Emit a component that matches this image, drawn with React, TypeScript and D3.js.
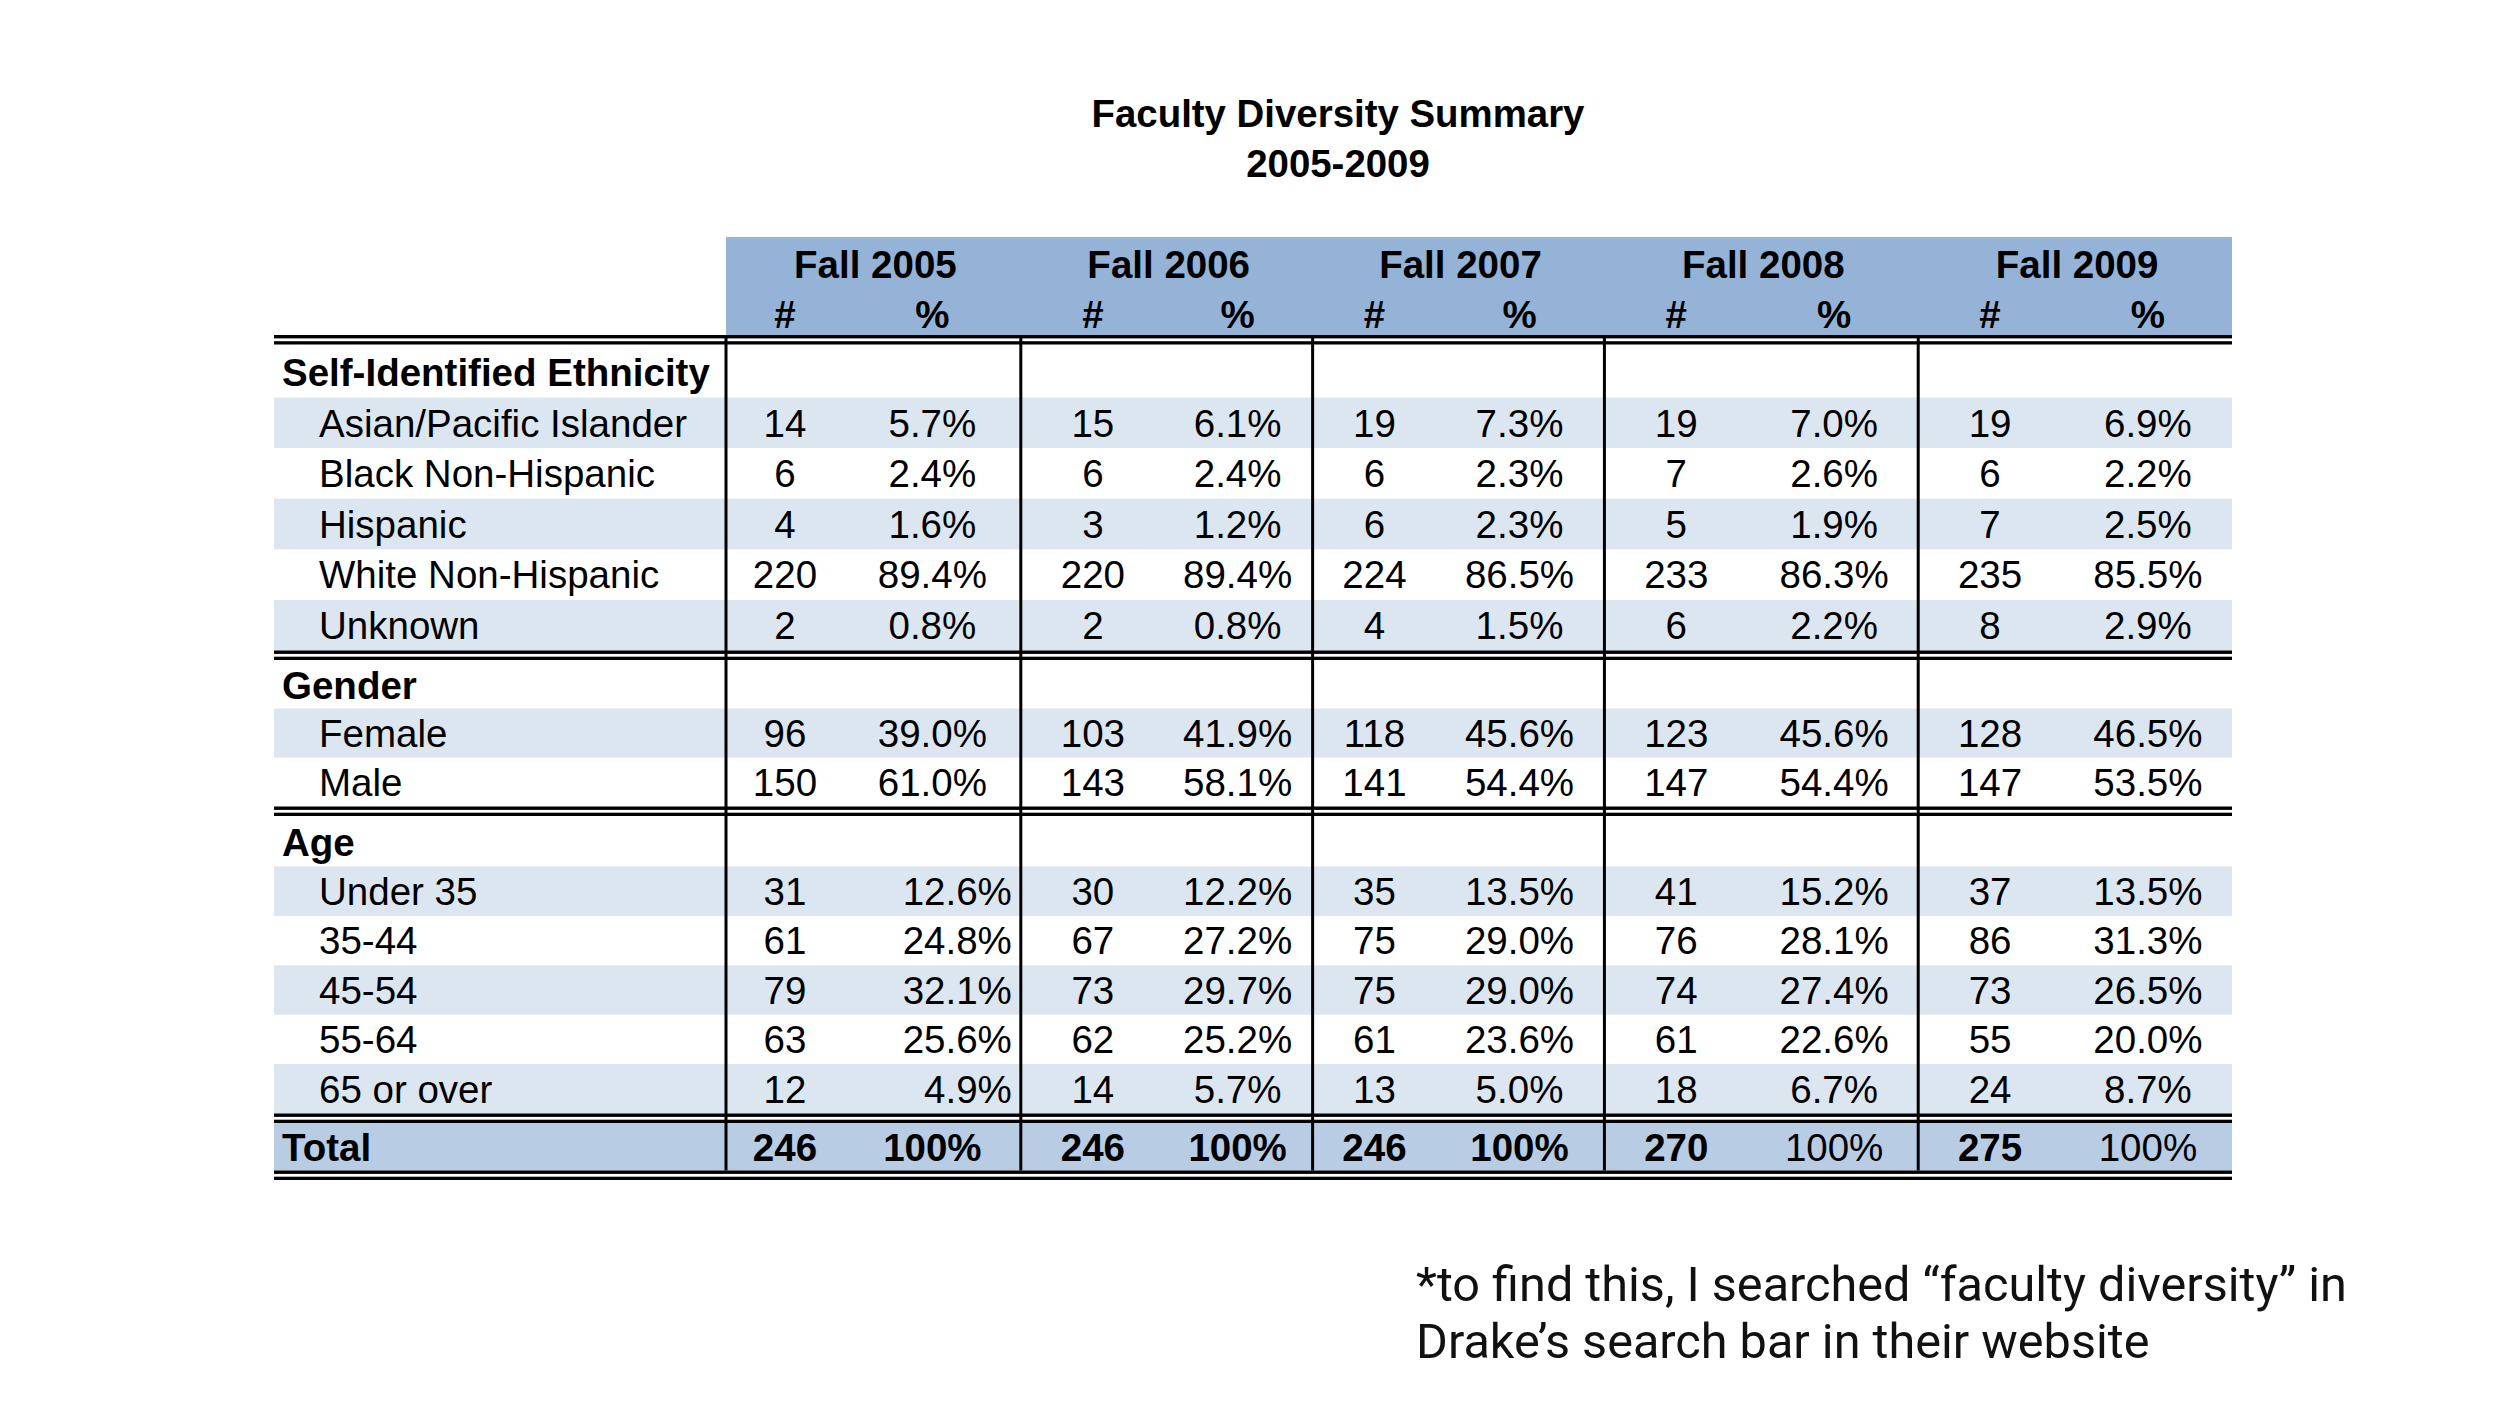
import React from "react";
import * as d3 from "d3";

// ---------- DATA ----------
const title = "Faculty Diversity Summary";
const subtitle = "2005-2009";
const years = ["Fall 2005", "Fall 2006", "Fall 2007", "Fall 2008", "Fall 2009"];

const ethnicityLabels = ["Asian/Pacific Islander", "Black Non-Hispanic", "Hispanic", "White Non-Hispanic", "Unknown"];
const ethnicityCounts = [
  [14, 15, 19, 19, 19],
  [6, 6, 6, 7, 6],
  [4, 3, 6, 5, 7],
  [220, 220, 224, 233, 235],
  [2, 2, 4, 6, 8],
];
const ethnicityPct = [
  [5.7, 6.1, 7.3, 7.0, 6.9],
  [2.4, 2.4, 2.3, 2.6, 2.2],
  [1.6, 1.2, 2.3, 1.9, 2.5],
  [89.4, 89.4, 86.5, 86.3, 85.5],
  [0.8, 0.8, 1.5, 2.2, 2.9],
];

const genderLabels = ["Female", "Male"];
const genderCounts = [
  [96, 103, 118, 123, 128],
  [150, 143, 141, 147, 147],
];
const genderPct = [
  [39.0, 41.9, 45.6, 45.6, 46.5],
  [61.0, 58.1, 54.4, 54.4, 53.5],
];

const ageLabels = ["Under 35", "35-44", "45-54", "55-64", "65 or over"];
const ageCounts = [
  [31, 30, 35, 41, 37],
  [61, 67, 75, 76, 86],
  [79, 73, 75, 74, 73],
  [63, 62, 61, 61, 55],
  [12, 14, 13, 18, 24],
];
const agePct = [
  [12.6, 12.2, 13.5, 15.2, 13.5],
  [24.8, 27.2, 29.0, 28.1, 31.3],
  [32.1, 29.7, 29.0, 27.4, 26.5],
  [25.6, 25.2, 23.6, 22.6, 20.0],
  [4.9, 5.7, 5.0, 6.7, 8.7],
];

const totalCounts = [246, 246, 246, 270, 275];
const totalPct = [100, 100, 100, 100, 100];
const totalPctBold = [true, true, true, false, false];

const footnote = ["*to find this, I searched \u201cfaculty diversity\u201d in", "Drake\u2019s search bar in their website"];

// ---------- LAYOUT ----------
const W = 2500;
const H = 1407;
const FONT = "'Liberation Sans', Arial, Helvetica, sans-serif";
const FS = 38.5;
const tableLeft = 274;
const tableRight = 2232;
const dataLeft = 726;
const yearWeights = [295, 292, 292, 314, 314];
const numFrac = [0.2, 0.247, 0.212, 0.229, 0.229];
const pctFrac = [0.7, 0.743, 0.709, 0.732, 0.732];
const headerTop = 237;
const headerBottom = 335;
const dblH = 9.5;

const C_HEADER = "#95b3d7";
const C_BAND = "#dce6f1";
const C_TOTAL = "#b8cce4";

const fmtPct = (v: number) => (v === 100 ? "100%" : d3.format(".1f")(v) + "%");

const sections = [
  { title: "Self-Identified Ethnicity", labels: ethnicityLabels, counts: ethnicityCounts, pct: ethnicityPct, headH: 53, rowH: 50.6, rightAlign2005: false },
  { title: "Gender", labels: genderLabels, counts: genderCounts, pct: genderPct, headH: 48.5, rowH: 49, rightAlign2005: false },
  { title: "Age", labels: ageLabels, counts: ageCounts, pct: agePct, headH: 50.5, rowH: 49.4, rightAlign2005: true },
];

export default function App() {
  const cum = [0, ...d3.cumsum(yearWeights)];
  const xw = d3.scaleLinear().domain([0, d3.sum(yearWeights)]).range([dataLeft, tableRight]);
  const edges = cum.map((c) => xw(c));
  const numX = years.map((_, i) => edges[i] + (edges[i + 1] - edges[i]) * numFrac[i]);
  const pctX = years.map((_, i) => edges[i] + (edges[i + 1] - edges[i]) * pctFrac[i]);

  const base = (cy: number) => cy + FS * 0.358;

  const els: React.ReactNode[] = [];
  const dbls: number[] = [headerBottom];
  let y = headerBottom + dblH;
  let k = 0;

  sections.forEach((s, si) => {
    els.push(
      <text key={"sh" + si} x={282} y={base(y + s.headH / 2 + 1)} fontWeight="bold" fontSize={FS}>
        {s.title}
      </text>
    );
    y += s.headH;
    s.labels.forEach((lab, ri) => {
      const band = ri % 2 === 0;
      if (band) {
        els.push(<rect key={"b" + k} x={tableLeft} y={y} width={tableRight - tableLeft} height={s.rowH} fill={C_BAND} />);
      }
      const cy = y + s.rowH / 2;
      els.push(
        <text key={"l" + k} x={319} y={base(cy)} fontSize={FS}>
          {lab}
        </text>
      );
      years.forEach((_, yi) => {
        els.push(
          <text key={"n" + k + "_" + yi} x={numX[yi]} y={base(cy)} fontSize={FS} textAnchor="middle">
            {s.counts[ri][yi]}
          </text>
        );
        const ra = s.rightAlign2005 && yi === 0;
        els.push(
          <text
            key={"p" + k + "_" + yi}
            x={ra ? edges[1] - 9 : pctX[yi]}
            y={base(cy)}
            fontSize={FS}
            textAnchor={ra ? "end" : "middle"}
          >
            {fmtPct(s.pct[ri][yi])}
          </text>
        );
      });
      y += s.rowH;
      k++;
    });
    dbls.push(y);
    y += dblH;
  });

  const totalH = 47.5;
  const tcy = y + totalH / 2;
  els.push(<rect key="tot" x={tableLeft} y={y} width={tableRight - tableLeft} height={totalH} fill={C_TOTAL} />);
  els.push(
    <text key="totl" x={282} y={base(tcy)} fontSize={FS} fontWeight="bold">
      Total
    </text>
  );
  years.forEach((_, yi) => {
    els.push(
      <text key={"tn" + yi} x={numX[yi]} y={base(tcy)} fontSize={FS} fontWeight="bold" textAnchor="middle">
        {totalCounts[yi]}
      </text>
    );
    els.push(
      <text key={"tp" + yi} x={pctX[yi]} y={base(tcy)} fontSize={FS} fontWeight={totalPctBold[yi] ? "bold" : "normal"} textAnchor="middle">
        {fmtPct(totalPct[yi])}
      </text>
    );
  });
  y += totalH;
  dbls.push(y);
  const tableBottom = y + dblH;

  return (
    <svg width={W} height={H} style={{ display: "block", position: "absolute", left: 0, top: 0 }} fontFamily={FONT}>
      <rect x={0} y={0} width={W} height={H} fill="#ffffff" />
      <text x={1338} y={127} textAnchor="middle" fontWeight="bold" fontSize={38.4}>
        {title}
      </text>
      <text x={1338} y={177} textAnchor="middle" fontWeight="bold" fontSize={38.4}>
        {subtitle}
      </text>
      <rect x={dataLeft} y={headerTop} width={tableRight - dataLeft} height={headerBottom - headerTop} fill={C_HEADER} />
      {years.map((yr, i) => (
        <g key={yr}>
          <text x={(edges[i] + edges[i + 1]) / 2 + 2} y={278} textAnchor="middle" fontWeight="bold" fontSize={FS}>
            {yr}
          </text>
          <text x={numX[i]} y={328} textAnchor="middle" fontWeight="bold" fontSize={FS}>
            #
          </text>
          <text x={pctX[i]} y={328} textAnchor="middle" fontWeight="bold" fontSize={FS}>
            %
          </text>
        </g>
      ))}
      {els}
      {dbls.map((dy, i) => (
        <g key={"d" + i}>
          <rect x={tableLeft} y={dy} width={tableRight - tableLeft} height={3.4} fill="#000" />
          <rect x={tableLeft} y={dy + 6.2} width={tableRight - tableLeft} height={3.3} fill="#000" />
        </g>
      ))}
      {edges.slice(0, 5).map((ex, i) => (
        <line key={"v" + i} x1={ex} x2={ex} y1={headerBottom} y2={tableBottom - dblH} stroke="#000" strokeWidth={3} />
      ))}
      {footnote.map((t, i) => (
        <text key={"f" + i} x={1416} y={1301 + i * 57} fontFamily="Roboto, 'Noto Sans', sans-serif" fontSize={48.6} fill="#111">
          {t}
        </text>
      ))}
    </svg>
  );
}
